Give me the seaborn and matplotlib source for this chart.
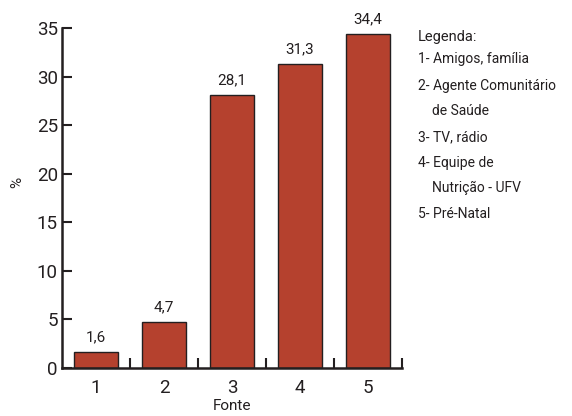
import matplotlib
matplotlib.use("Agg")
import matplotlib.pyplot as plt
import seaborn as sns
import pandas as pd

categories = ["1", "2", "3", "4", "5"]
values = [1.6, 4.7, 28.1, 31.3, 34.4]
value_labels = ["1,6", "4,7", "28,1", "31,3", "34,4"]
legend_title = "Legenda:"
legend_lines = ["1- Amigos, família", "2- Agente Comunitário", "    de Saúde",
                "3- TV, rádio", "4- Equipe de", "    Nutrição - UFV", "5- Pré-Natal"]

sns.set_theme(style="white")
plt.rcParams['font.family'] = ['Roboto', 'DejaVu Sans']
plt.rcParams['text.color'] = '#231f20'

df = pd.DataFrame({"Fonte": categories, "pct": values})

fig = plt.figure(figsize=(5.72, 4.16), dpi=100)
ax = fig.add_axes([62/572, (416-368)/416, (402-62)/572, (368-28)/416])
sns.barplot(data=df, x="Fonte", y="pct", color="#b5412e", width=0.65,
            edgecolor="#231f20", linewidth=1.0, saturation=1, ax=ax)

ax.set_xlim(-0.5, 4.5)
ax.set_ylim(0, 35)
ax.set_yticks(range(0, 36, 5))
ax.set_xticks(range(5))
ax.set_xticklabels(categories)
ax.set_xticks([0.5, 1.5, 2.5, 3.5, 4.5], minor=True)
ax.tick_params(axis='x', which='major', length=0, labelsize=13.5, pad=8, labelcolor='#231f20')
ax.tick_params(axis='x', which='minor', direction='in', length=7, width=1.5, color='#231f20', bottom=True)
ax.tick_params(axis='y', direction='in', length=7, width=1.5, color='#231f20', labelsize=13.5, pad=3,
               labelcolor='#231f20', left=True)

for s in ['top', 'right']:
    ax.spines[s].set_visible(False)
for s in ['left', 'bottom']:
    ax.spines[s].set_linewidth(1.8)
    ax.spines[s].set_color('#231f20')

for i, (v, lab) in enumerate(zip(values, value_labels)):
    ax.text(i, v + 0.8, lab, ha='center', va='bottom', fontsize=11, color='#231f20')

ax.set_xlabel("Fonte", fontsize=11, labelpad=1, color='#231f20')
ax.set_ylabel("")
fig.text(17/572, 1 - 182/416, "%", fontsize=11, rotation=90, ha='center', va='center')

fig.text(418/572, 1 - 37/416, legend_title, fontsize=10.5, va='center', ha='left')
ys = [59, 86, 111, 137, 163, 188, 214]
for y, t in zip(ys, legend_lines):
    fig.text(418/572, 1 - y/416, t, fontsize=10, va='center', ha='left')

fig.savefig("out.png", dpi=100)
